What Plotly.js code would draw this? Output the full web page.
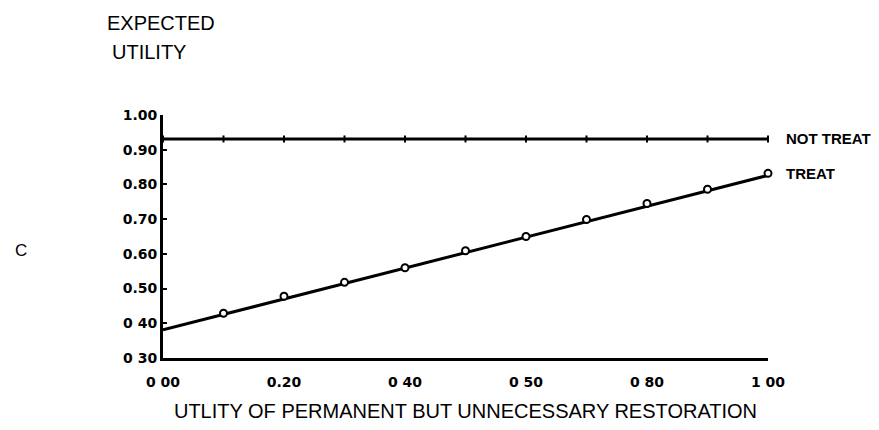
<!DOCTYPE html>
<html>
<head>
<meta charset="utf-8">
<script src="https://cdn.plot.ly/plotly-3.0.1.min.js"></script>
<style>html,body{margin:0;padding:0;background:#fff;}#chart{width:879px;height:430px;}</style>
</head>
<body>
<div id="chart"></div>
<script>
// Data
const utilityX = [0.0, 0.1, 0.2, 0.3, 0.4, 0.5, 0.6, 0.7, 0.8, 0.9, 1.0];
const notTreatY = [0.931, 0.931, 0.931, 0.931, 0.931, 0.931, 0.931, 0.931, 0.931, 0.931, 0.931];
const treatPointsX = [0.1, 0.2, 0.3, 0.4, 0.5, 0.6, 0.7, 0.8, 0.9, 1.0];
const treatPointsY = [0.429, 0.478, 0.518, 0.560, 0.609, 0.650, 0.699, 0.745, 0.786, 0.832];
const treatLineX = [0.0, 1.0];
const treatLineY = [0.381, 0.826];
const xTickVals = [0, 0.2, 0.4, 0.6, 0.8, 1.0];
const xTickText = ["0 00", "0.20", "0 40", "0 50", "0 80", "1 00"];
const yTickVals = [0.3, 0.4, 0.5, 0.6, 0.7, 0.8, 0.9, 1.0];
const yTickText = ["0 30", "0 40", "0.50", "0.60", "0.70", "0.80", "0.90", "1.00"];
const seriesNames = ["NOT TREAT", "TREAT"];

const F = "Liberation Sans, Arial, sans-serif";
const FT = "DejaVu Sans, sans-serif";
const traces = [
  {x: utilityX, y: notTreatY, mode: "lines+markers", name: seriesNames[0],
   line: {color: "#000", width: 3}, marker: {symbol: "line-ns-open", size: 5, color: "#000", line: {width: 2, color: "#000"}},
   hoverinfo: "skip", cliponaxis: false},
  {x: treatLineX, y: treatLineY, mode: "lines", name: seriesNames[1],
   line: {color: "#000", width: 3}, hoverinfo: "skip", cliponaxis: false},
  {x: treatPointsX, y: treatPointsY, mode: "markers", name: seriesNames[1] + " points",
   marker: {symbol: "circle", size: 7, color: "#fff", line: {width: 2, color: "#000"}},
   hoverinfo: "skip", cliponaxis: false}
];

const layout = {
  width: 879, height: 430,
  margin: {l: 163, r: 111, t: 115, b: 72},
  paper_bgcolor: "#fff", plot_bgcolor: "#fff",
  showlegend: false,
  font: {family: F, color: "#000", size: 13},
  xaxis: {
    range: [0, 1], showgrid: false, zeroline: false,
    showline: true, linecolor: "#000", linewidth: 3,
    ticks: "",
    tickvals: xTickVals, ticktext: xTickText,
    tickfont: {family: FT, size: 14, color: "#000", weight: "bold"},
    ticklabelstandoff: 9,
    title: {text: "UTLITY OF PERMANENT BUT UNNECESSARY RESTORATION", font: {family: F, size: 20, color: "#000"}, standoff: 16},
    fixedrange: true
  },
  yaxis: {
    range: [0.3, 1.0], showgrid: false, zeroline: false,
    showline: true, linecolor: "#000", linewidth: 3,
    ticks: "inside", ticklen: 4, tickwidth: 2, tickcolor: "#000",
    tickvals: yTickVals, ticktext: yTickText,
    tickfont: {family: FT, size: 14, color: "#000", weight: "bold"},
    ticklabelstandoff: 0,
    fixedrange: true
  },
  annotations: [
    {text: "EXPECTED", xref: "paper", yref: "paper", x: 0, y: 1.0,
     xanchor: "left", yanchor: "middle", showarrow: false, font: {family: F, size: 20}},
    {text: "UTILITY", xref: "paper", yref: "paper", x: 0, y: 1.0, xanchor: "left", yanchor: "middle",
     showarrow: false, font: {family: F, size: 20}},
    {text: "NOT TREAT", xref: "paper", yref: "y", x: 1.0, xshift: 16, y: notTreatY[notTreatY.length - 1], xanchor: "left", yanchor: "middle",
     showarrow: false, font: {family: F, size: 15, weight: "bold"}},
    {text: "TREAT", xref: "paper", yref: "y", x: 1.0, xshift: 16, y: treatPointsY[treatPointsY.length - 1], xanchor: "left", yanchor: "middle",
     showarrow: false, font: {family: F, size: 15, weight: "bold"}},
    {text: "C", xref: "paper", yref: "paper", x: 0, y: 0.45, xanchor: "center", yanchor: "middle",
     showarrow: false, font: {family: F, size: 17}}
  ]
};

// place the two-line y title and the panel letter in pixels relative to the plot area
const plotH = 430 - 115 - 72;
const plotW = 879 - 163 - 111;
layout.annotations[0].y = 1 + (115 - 23) / plotH;
layout.annotations[1].y = 1 + (115 - 52) / plotH;
layout.annotations[0].x = (105 - 163) / plotW;
layout.annotations[1].x = (110 - 163) / plotW;
layout.annotations[4].x = (21 - 163) / plotW;
layout.annotations[4].y = (358 - 250) / plotH;

Plotly.newPlot("chart", traces, layout, {displayModeBar: false, staticPlot: true});
</script>
</body>
</html>
